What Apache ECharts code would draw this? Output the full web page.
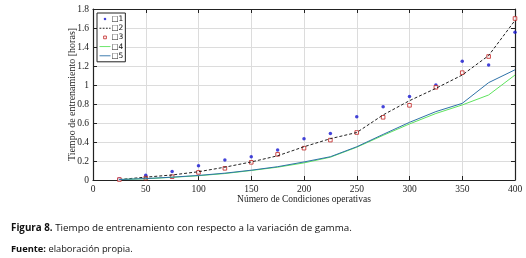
<!DOCTYPE html>
<html>
<head>
<meta charset="utf-8">
<script src="https://cdn.jsdelivr.net/npm/echarts@6/dist/echarts.min.js"></script>
<style>
  html, body { margin: 0; padding: 0; background: #fff; }
  #chart { width: 526px; height: 258px; }
</style>
</head>
<body>
<div id="chart"></div>
<script>
// condiciones operativas
const condiciones = [25, 50, 75, 100, 125, 150, 175, 200, 225, 250, 275, 300, 325, 350, 375, 400];

// tiempos [horas]
const serie1 = [0.01, 0.05, 0.09, 0.15, 0.21, 0.245, 0.315, 0.435, 0.49, 0.665, 0.77, 0.88, 1.0, 1.25, 1.21, 1.555];
const serie2 = [0.005, 0.03, 0.053, 0.087, 0.135, 0.19, 0.255, 0.35, 0.435, 0.5, 0.685, 0.835, 0.965, 1.105, 1.31, 1.68];
const serie3 = [0.005, 0.02, 0.035, 0.08, 0.123, 0.186, 0.27, 0.335, 0.42, 0.5, 0.66, 0.786, 0.976, 1.13, 1.3, 1.70];
const serie4 = [0.005, 0.013, 0.028, 0.045, 0.068, 0.1, 0.135, 0.18, 0.24, 0.345, 0.47, 0.59, 0.7, 0.79, 0.895, 1.105];
const serie5 = [0.005, 0.015, 0.03, 0.048, 0.072, 0.103, 0.14, 0.19, 0.245, 0.35, 0.48, 0.607, 0.72, 0.807, 1.025, 1.16];

const nombres = ['\u25A11', '\u25A12', '\u25A13', '\u25A14', '\u25A15'];

const pares = vals => condiciones.map((c, i) => [c, vals[i]]);

const serif = 'Liberation Serif';
const chart = echarts.init(document.getElementById('chart'));

// iconos de leyenda: los "M0,0M12,6" fijan la caja para que la marca quede pequeña
const iconoPunto = 'path://M0,0M12,6M6,1.6a1.4,1.4 0 1,0 0.01,0z';
const iconoCuadro = 'path://M0,0M12,6M4.5,1.5h3v3h-3z';
const iconoLinea = 'path://M0,0M12,6M0,2.5h12v1h-12z';
const iconoGuion = 'path://M0,0M12,6M0,2.5h2v1h-2zM3.5,2.5h2v1h-2zM7,2.5h2v1h-2zM10.5,2.5h1.5v1h-1.5z';

const ejeX = {
  type: 'value', min: 0, max: 400, interval: 50,
  axisLine: { show: true, onZero: false, lineStyle: { color: '#222', width: 1.2 } },
  axisTick: { show: true, inside: true, length: 4, lineStyle: { color: '#222' } },
  splitLine: { show: true, lineStyle: { color: '#dcdcdc', width: 1 } }
};
const ejeY = {
  type: 'value', min: 0, max: 1.8, interval: 0.2,
  axisLine: { show: true, onZero: false, lineStyle: { color: '#222', width: 1.2 } },
  axisTick: { show: true, inside: true, length: 4, lineStyle: { color: '#222' } },
  splitLine: { show: true, lineStyle: { color: '#dcdcdc', width: 1 } }
};

chart.setOption({
  animation: false,
  grid: { left: 93, right: 11, top: 9, bottom: 78 },
  legend: {
    left: 97, top: 13, orient: 'vertical',
    itemWidth: 11, itemHeight: 6, itemGap: 1.2,
    padding: [2, 2, 2, 2],
    backgroundColor: '#fff', borderColor: '#222', borderWidth: 1,
    textStyle: { fontFamily: 'DejaVu Sans', fontSize: 7.5, color: '#111', padding: [0, 0, 0, -4] },
    data: [
      { name: nombres[0], icon: iconoPunto, itemStyle: { color: '#1515d0' } },
      { name: nombres[1], icon: iconoGuion, itemStyle: { color: '#222' } },
      { name: nombres[2], icon: iconoCuadro, itemStyle: { color: '#fff', borderColor: '#c02020', borderWidth: 1 } },
      { name: nombres[3], icon: iconoLinea, itemStyle: { color: '#5ee35e' } },
      { name: nombres[4], icon: iconoLinea, itemStyle: { color: '#2f72a8' } }
    ]
  },
  xAxis: [
    Object.assign({}, ejeX, {
      position: 'bottom',
      name: 'Número de Condiciones operativas', nameLocation: 'middle', nameGap: 14,
      nameMoveOverlap: false,
      nameTextStyle: { fontFamily: serif, fontSize: 9.5, color: '#222' },
      axisLabel: { fontFamily: serif, fontSize: 9.5, color: '#222', margin: 4 }
    }),
    Object.assign({}, ejeX, { position: 'top', axisLabel: { show: false }, splitLine: { show: false } })
  ],
  yAxis: [
    Object.assign({}, ejeY, {
      position: 'left',
      name: 'Tiempo de entrenamiento [horas]', nameLocation: 'middle', nameGap: 16,
      nameMoveOverlap: false,
      nameTextStyle: { fontFamily: serif, fontSize: 10, color: '#222' },
      axisLabel: { fontFamily: serif, fontSize: 9.5, color: '#222', margin: 4 }
    }),
    Object.assign({}, ejeY, { position: 'right', axisLabel: { show: false }, splitLine: { show: false } })
  ],
  series: [
    {
      name: nombres[0], type: 'scatter', data: pares(serie1),
      symbol: 'circle', symbolSize: 3.5,
      itemStyle: { color: '#1515d0' }
    },
    {
      name: nombres[1], type: 'line', data: pares(serie2),
      showSymbol: false, symbol: 'none',
      lineStyle: { color: '#222', width: 1, type: [3, 2] },
      itemStyle: { color: '#222' }
    },
    {
      name: nombres[2], type: 'scatter', data: pares(serie3),
      symbol: 'rect', symbolSize: 3.6,
      itemStyle: { color: '#fff', borderColor: '#c02020', borderWidth: 1 }
    },
    {
      name: nombres[3], type: 'line', data: pares(serie4),
      showSymbol: false, symbol: 'none',
      lineStyle: { color: '#5ee35e', width: 1 },
      itemStyle: { color: '#5ee35e' }
    },
    {
      name: nombres[4], type: 'line', data: pares(serie5),
      showSymbol: false, symbol: 'none',
      lineStyle: { color: '#2f72a8', width: 1 },
      itemStyle: { color: '#2f72a8' }
    }
  ],
  graphic: [
    {
      type: 'text', left: 11, top: 223,
      style: {
        rich: {
          b: { fontFamily: 'Open Sans', fontSize: 9.8, fontWeight: 'bold', fill: '#111' },
          n: { fontFamily: 'Open Sans', fontSize: 9.8, fill: '#111' }
        },
        text: '{b|Figura 8.}{n| Tiempo de entrenamiento con respecto a la variación de gamma.}'
      }
    },
    {
      type: 'text', left: 11, top: 245,
      style: {
        rich: {
          b: { fontFamily: 'Open Sans', fontSize: 9.3, fontWeight: 'bold', fill: '#111' },
          n: { fontFamily: 'Open Sans', fontSize: 9.3, fill: '#111' }
        },
        text: '{b|Fuente:}{n| elaboración propia.}'
      }
    }
  ]
});
</script>
</body>
</html>
